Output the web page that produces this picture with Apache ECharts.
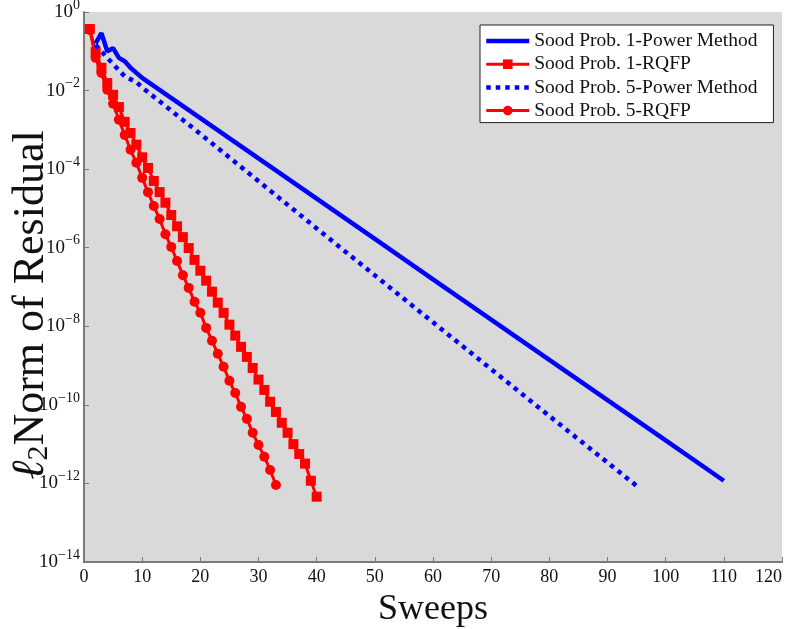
<!DOCTYPE html>
<html><head><meta charset="utf-8">
<script src="https://cdn.jsdelivr.net/npm/echarts@6/dist/echarts.min.js"></script>
<style>html,body{margin:0;padding:0;background:#fff}#c{width:793px;height:629px}</style>
</head><body><div id="c"></div>
<script>
// ---- data ----
const seriesNames = ['Sood Prob. 1-Power Method', 'Sood Prob. 1-RQFP', 'Sood Prob. 5-Power Method', 'Sood Prob. 5-RQFP'];

const power1Sweeps   = [2, 3, 4, 5, 6, 7, 8, 10, 20, 30, 40, 50, 60, 70, 80, 90, 100, 110];
const power1Residual = [1.6e-1, 2.9e-1, 1.0e-1, 1.2e-1, 6.8e-2, 5.6e-2, 3.8e-2, 2.1e-2, 2.0e-3, 1.87e-4, 1.77e-5, 1.67e-6, 1.57e-7, 1.48e-8, 1.40e-9, 1.32e-10, 1.25e-11, 1.17e-12];

const rqfp1Sweeps   = [1,2,3,4,5,6,7,8,9,10,11,12,13,14,15,16,17,18,19,20,21,22,23,24,25,26,27,28,29,30,31,32,33,34,35,36,37,38,39,40];
const rqfp1Residual = [3.7e-1, 9.5e-2, 3.8e-2, 1.55e-2, 7.8e-3, 3.8e-3, 1.6e-3, 8.3e-4, 4.2e-4, 2.0e-4,
                       1.07e-4, 5.0e-5, 2.6e-5, 1.4e-5, 6.8e-6, 3.5e-6, 1.86e-6, 9.8e-7, 4.9e-7, 2.6e-7,
                       1.45e-7, 7.6e-8, 4.0e-8, 2.2e-8, 1.1e-8, 5.8e-9, 3.0e-9, 1.66e-9, 8.7e-10, 4.4e-10,
                       2.4e-10, 1.2e-10, 6.6e-11, 3.5e-11, 1.95e-11, 1.0e-11, 5.6e-12, 3.2e-12, 1.17e-12, 4.6e-13];

const power5Sweeps   = [2, 4, 6, 7, 9, 10, 20, 40, 60, 80, 95];
const power5Residual = [1.45e-1, 6.8e-2, 3.3e-2, 2.3e-2, 1.65e-2, 1.2e-2, 7.9e-4, 3.1e-6, 1.26e-8, 5.2e-11, 8.7e-13];

const rqfp5Sweeps   = [1,2,3,4,5,6,7,8,9,10,11,12,13,14,15,16,17,18,19,20,21,22,23,24,25,26,27,28,29,30,31,32,33];
const rqfp5Residual = [3.5e-1, 6.8e-2, 2.8e-2, 1.05e-2, 4.6e-3, 1.8e-3, 7.4e-4, 3.1e-4, 1.45e-4, 6.0e-5,
                       2.6e-5, 1.15e-5, 5.4e-6, 2.2e-6, 1.05e-6, 4.6e-7, 2.0e-7, 9.5e-8, 4.2e-8, 2.2e-8,
                       9.1e-9, 4.3e-9, 2.0e-9, 9.3e-10, 4.1e-10, 2.0e-10, 8.9e-11, 4.4e-11, 1.95e-11, 9.5e-12,
                       4.8e-12, 2.2e-12, 9.1e-13];

const xTicks = {min: 0, max: 120, interval: 10};
const yTicks = {min: 1e-14, max: 1, interval: 2}; // interval in decades

// ---- chart ----
const pair = (xs, ys) => xs.map((x, i) => [x, ys[i]]);
const FONT = '"Liberation Serif", "DejaVu Serif", serif';
const chart = echarts.init(document.getElementById('c'), null, {renderer: 'canvas'});
const noSym = {opacity: 0, color: 'rgba(0,0,0,0)', borderWidth: 0};

chart.setOption({
  backgroundColor: '#ffffff',
  animation: false,
  grid: {left: 84, right: 11, top: 12, bottom: 67, show: true, backgroundColor: '#d9d9d9', borderWidth: 0,
         containLabel: false, outerBoundsMode: 'none'},
  legend: {
    orient: 'vertical', left: 480, top: 25,
    padding: [6, 16, 2, 4],
    backgroundColor: '#ffffff', borderColor: '#222', borderWidth: 1, borderRadius: 0,
    itemWidth: 43, itemHeight: 12, itemGap: 3.2,
    lineStyle: {width: 'inherit'},
    textStyle: {fontFamily: FONT, fontSize: 19.5, lineHeight: 18, color: '#111'},
    data: [
      {name: seriesNames[0], itemStyle: noSym},
      {name: seriesNames[1]},
      {name: seriesNames[2], itemStyle: noSym},
      {name: seriesNames[3]}
    ]
  },
  xAxis: {
    type: 'value', min: xTicks.min, max: xTicks.max, interval: xTicks.interval,
    name: 'Sweeps', nameLocation: 'middle', nameGap: 30, nameMoveOverlap: false,
    nameTextStyle: {fontFamily: FONT, fontSize: 36, color: '#111'},
    axisLine: {show: true, lineStyle: {color: '#7a7a7a', width: 2}},
    axisTick: {show: true, inside: true, length: 5, lineStyle: {color: '#7a7a7a', width: 1}},
    axisLabel: {fontFamily: FONT, fontSize: 18, color: '#111', margin: 6, alignMaxLabel: 'right'},
    splitLine: {show: false}
  },
  yAxis: {
    type: 'log', logBase: 10, min: yTicks.min, max: yTicks.max, interval: yTicks.interval,
    name: '{a|ℓ}{sub|2}{n|Norm of Residual}', nameLocation: 'middle', nameRotate: 90, nameGap: 30,
    nameMoveOverlap: false,
    nameTextStyle: {
      fontFamily: FONT, fontSize: 44, color: '#111', padding: [0, 36, 0, 0],
      rich: {
        a: {fontFamily: FONT, fontSize: 46, color: '#111', fontStyle: 'italic'},
        sub: {fontFamily: FONT, fontSize: 30, color: '#111', padding: [16, 0, 0, 0]},
        n: {fontFamily: FONT, fontSize: 44, color: '#111'}
      }
    },
    axisLine: {show: true, lineStyle: {color: '#7a7a7a', width: 2}},
    axisTick: {show: true, inside: true, length: 5, lineStyle: {color: '#7a7a7a', width: 1}},
    axisLabel: {
      margin: 4,
      formatter: v => {
        const e = Math.round(Math.log10(v));
        return '{b|10}{s|' + (e < 0 ? '\u2212' + (-e) : e) + '}';
      },
      rich: {
        b: {fontFamily: FONT, fontSize: 19, color: '#111'},
        s: {fontFamily: FONT, fontSize: 14, color: '#111', padding: [0, 0, 14, 0]}
      }
    },
    splitLine: {show: false}, minorTick: {show: false}
  },
  series: [
    {name: seriesNames[0], type: 'line', data: pair(power1Sweeps, power1Residual),
     showSymbol: false, symbol: 'none', lineStyle: {color: '#0000ff', width: 4.5}, itemStyle: {color: '#0000ff'}, z: 3},
    {name: seriesNames[1], type: 'line', data: pair(rqfp1Sweeps, rqfp1Residual),
     symbol: 'rect', symbolSize: 10, lineStyle: {color: '#ff0000', width: 3}, itemStyle: {color: '#ff0000'}, z: 2},
    {name: seriesNames[2], type: 'line', data: pair(power5Sweeps, power5Residual),
     showSymbol: false, symbol: 'none', lineStyle: {color: '#0000ff', width: 4.5, type: [4.5, 5]}, itemStyle: {color: '#0000ff'}, z: 3},
    {name: seriesNames[3], type: 'line', data: pair(rqfp5Sweeps, rqfp5Residual),
     symbol: 'circle', symbolSize: 10, lineStyle: {color: '#ff0000', width: 3}, itemStyle: {color: '#ff0000'}, z: 2}
  ]
});
</script></body></html>
